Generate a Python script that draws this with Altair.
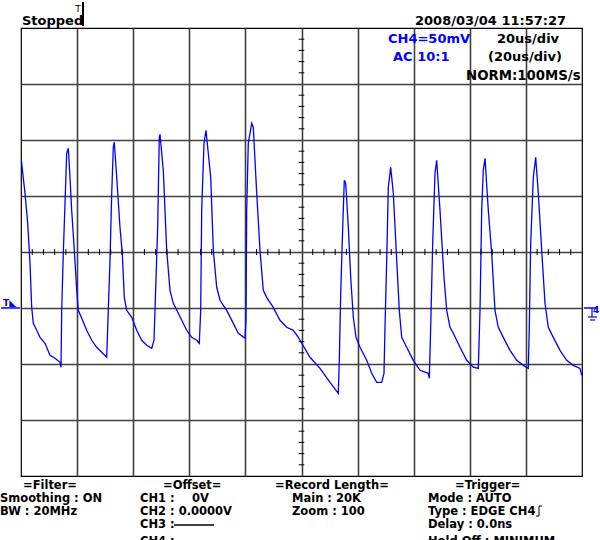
import altair as alt
import pandas as pd

# ---- waveform (CH4, 20 us/div, 50 mV/div) ----
time_us = [0.00, 1.43, 2.39, 3.21, 3.81, 4.39, 5.60, 6.77, 8.56, 10.34, 12.12, 13.90, 14.26,
           14.51, 15.08, 15.69, 16.29, 16.86, 17.47, 18.07, 19.00, 19.86, 20.43, 21.64, 23.42,
           25.20, 26.99, 28.77, 30.55, 31.12, 31.73, 32.34, 32.91, 33.26, 34.12, 35.29, 36.11,
           36.83, 37.68, 39.47, 41.25, 43.03, 44.81, 46.60, 47.42, 47.77, 48.73, 49.30, 49.55,
           50.73, 51.94, 53.12, 54.30, 56.08, 59.07, 60.86, 62.64, 63.57, 64.06, 64.42, 65.24,
           65.95, 67.63, 68.56, 69.77, 70.95, 73.33, 75.69, 77.47, 79.86, 80.21, 80.46, 81.03,
           82.25, 82.82, 84.03, 85.20, 86.38, 87.59, 89.94, 92.33, 94.72, 97.08, 98.86, 99.47,
           103.03, 106.60, 110.16, 113.12, 113.48, 113.98, 114.69, 115.26, 115.76, 116.69,
           117.54, 118.47, 119.43, 120.86, 123.25, 125.03, 126.81, 128.59, 129.41, 129.77,
           130.37, 130.95, 131.80, 132.73, 133.94, 134.87, 135.72, 137.50, 139.86, 142.25,
           145.20, 145.56, 146.06, 146.77, 147.59, 148.20, 149.38, 150.80, 151.77, 152.94,
           154.12, 156.51, 158.89, 161.25, 163.03, 163.64, 164.24, 164.81, 165.42, 166.60,
           167.81, 168.98, 170.16, 171.94, 174.33, 176.72, 179.07, 180.86, 181.21, 181.71,
           182.64, 183.49, 184.42, 185.63, 186.81, 187.99, 189.77, 192.16, 194.54, 196.90,
           199.29, 199.89]
volt_mV = [84.8, 52.4, 25.6, -10.1, -49.4, -63.7, -69.9, -76.2, -81.5, -92.2, -94.9, -98.5, -102.9,
           -52.1, -1.2, 43.5, 88.1, 92.6, 66.7, 37.2, 1.5, -34.2, -52.1, -59.2, -69.9,
           -78.8, -85.1, -89.5, -94.0, -52.1, -7.4, 52.4, 93.5, 98.0, 66.7, 22.1, -1.2,
           -40.5, -52.1, -58.3, -69.9, -78.8, -83.3, -86.0, -78.8, -52.1, 22.1, 102.4, 105.1,
           73.0, 1.5, -34.2, -45.8, -54.7, -69.9, -76.2, -78.8, -81.5, -52.1, 37.2, 97.1,
           108.7, 66.7, 1.5, -31.5, -43.1, -52.1, -63.7, -72.6, -77.1, -61.0, 37.2, 97.1,
           114.9, 111.4, 52.4, 1.5, -34.2, -40.5, -49.4, -61.0, -67.2, -69.9, -76.2, -78.8,
           -94.0, -103.9, -116.4, -126.2, -96.7, -36.9, 22.1, 64.0, 61.4, 22.1,
           -22.6, -58.3, -76.2, -85.1, -96.7, -108.3, -116.4, -116.4, -108.3, -67.2,
           -7.4, 57.8, 75.6, 52.4, -7.4, -52.1, -76.2, -85.1, -96.7, -105.6,
           -108.3, -112.8, -67.2, 7.8, 70.3, 81.9, 37.2, -22.6, -52.1, -67.2,
           -72.6, -85.1, -96.7, -102.9, -103.9, -52.1, 37.2, 73.0, 83.7, 37.2,
           -1.2, -52.1, -67.2, -76.2, -87.8, -96.7, -101.2, -103.9, -67.2, 7.8,
           66.7, 84.6, 52.4, 1.5, -45.8, -67.2, -76.2, -87.8, -96.7, -101.2,
           -103.9, -110.1]

# grid / graticule
x_div_lines = [20, 40, 60, 80, 100, 120, 140, 160, 180]
y_div_lines = [-150, -100, -50, 0, 50, 100, 150]
x_minor = [t for t in range(4, 200, 4) if t % 20 != 0]
y_minor = [v for v in range(-190, 200, 10) if v % 50 != 0]

PL, PT = 21, 28  # plot-area origin in page pixels
W, H = 561, 448
BLUE = "#0000ff"
FONT = "DejaVu Sans"
BS = 11.5  # bottom text size

wave = pd.DataFrame({"t": time_us, "v": volt_mV, "i": range(len(time_us))})
one = pd.DataFrame({"k": [0]})

xscale = alt.Scale(domain=[0, 200], nice=False, zero=False)
yscale = alt.Scale(domain=[-200, 200], nice=False, zero=False)
grid_kw = dict(grid=True, labels=False, ticks=False, domain=False, title=None,
               gridColor="#404040", gridWidth=1.6, gridOpacity=1)

trace = alt.Chart(wave).mark_line(color=BLUE, strokeWidth=1.3, clip=True).encode(
    x=alt.X("t:Q", scale=xscale, axis=alt.Axis(values=x_div_lines, **grid_kw)),
    y=alt.Y("v:Q", scale=yscale, axis=alt.Axis(values=y_div_lines, **grid_kw)),
    order=alt.Order("i:Q"),
)

hticks = alt.Chart(pd.DataFrame({"t": x_minor})).mark_rule(color="black", strokeWidth=1).encode(
    x=alt.X("t:Q", scale=xscale), y=alt.datum(-2.7), y2=alt.datum(2.7))
vticks = alt.Chart(pd.DataFrame({"v": y_minor})).mark_rule(color="black", strokeWidth=1).encode(
    y=alt.Y("v:Q", scale=yscale), x=alt.datum(99.0), x2=alt.datum(101.0))


def label(text, X, Y, color="black", size=BS, bold=True, align="left"):
    return alt.Chart(one).mark_text(
        text=text, font=FONT, fontSize=size, fontWeight="bold" if bold else "normal",
        color=color, align=align, baseline="alphabetic").encode(
        x=alt.value(X - PL), y=alt.value(Y - PT))


def seg(X1, Y1, X2, Y2, color="black", w=1.0):
    return alt.Chart(one).mark_rule(color=color, strokeWidth=w).encode(
        x=alt.value(X1 - PL), y=alt.value(Y1 - PT), x2=alt.value(X2 - PL), y2=alt.value(Y2 - PT))


texts = [
    label("Stopped", 22, 25, size=13),
    label("T", 78, 12, size=9, bold=False, align="center"),
    seg(83, 2, 83, 26, w=2),
    label("2008/03/04 11:57:27", 415, 25, size=13),
    label("CH4=50mV", 388, 43, color=BLUE, size=13),
    label("AC 10:1", 393, 61, color=BLUE, size=13),
    label("20us/div", 497, 43, size=13),
    label("(20us/div)", 488, 61, size=13),
    label("NORM:100MS/s", 466, 80, size=13.3),
    # left ground marker
    seg(1, 308, 20, 308, color=BLUE, w=1.5),
    label("T◣", 3, 306, color=BLUE, size=9),
    # right trigger marker
    seg(584, 308, 597, 308, color=BLUE, w=1.5),
    seg(592, 308, 592, 317, color=BLUE, w=1.2),
    seg(588, 317, 597, 317, color=BLUE, w=1.2),
    seg(590, 320, 595, 320, color=BLUE, w=1.2),
    label("4", 593, 313, color=BLUE, size=9),
    # bottom info
    label("=Filter=", 23, 489),
    label("Smoothing : ON", 0, 502),
    label("BW : 20MHz", 0, 515),
    label("=Offset=", 163, 489),
    label("CH1 :", 140, 502),
    label("0V", 192, 502),
    label("CH2 : 0.0000V", 140, 515),
    label("CH3 :", 140, 528),
    seg(174, 525, 214, 525, w=1.5),
    label("CH4 :", 140, 545),
    seg(174, 542, 214, 542, w=1.5),
    label("=Record Length=", 275, 489),
    label("Main : 20K", 292, 502),
    label("Zoom : 100", 292, 515),
    label("=Trigger=", 455, 489),
    label("Mode : AUTO", 428, 502),
    label("Type : EDGE CH4", 428, 515),
    seg(539, 506, 539, 516, w=1),
    seg(539, 506, 542, 506, w=1),
    seg(536, 516, 539, 516, w=1),
    label("Delay :  0.0ns", 428, 528),
    label("Hold Off : MINIMUM", 428, 545),
]

chart = alt.layer(trace, hticks, vticks, *texts).properties(
    width=W, height=H,
    autosize=alt.AutoSizeParams(type="none"),
    padding={"left": PL, "top": PT, "right": 600 - PL - W, "bottom": 540 - PT - H},
    background="white",
).configure_view(stroke="black", strokeWidth=1.2)

chart.save("out.html", embed_options={"renderer": "svg", "actions": False})
